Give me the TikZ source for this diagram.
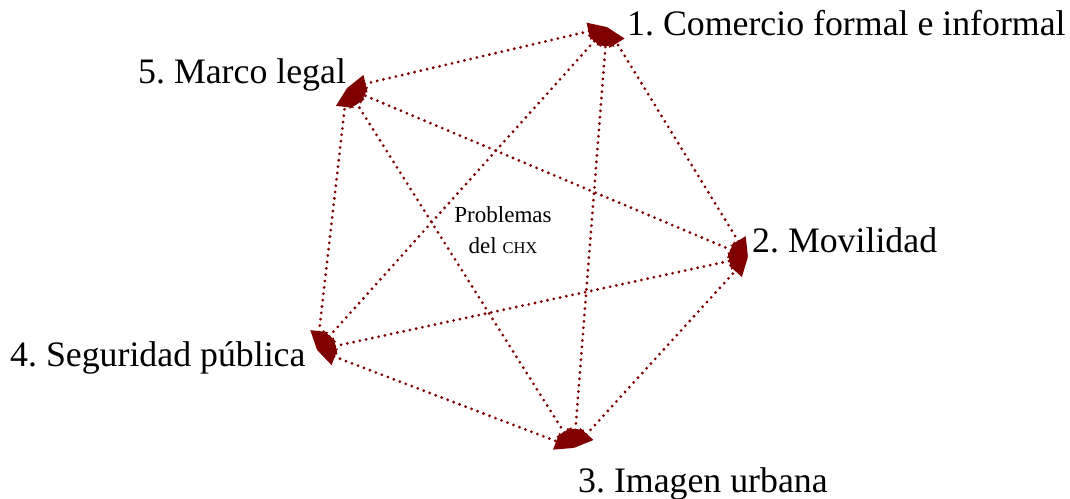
\documentclass[tikz,border=0pt]{standalone}
\usepackage{fontspec}
\setmainfont{Liberation Serif}
\usetikzlibrary{arrows.meta}
\definecolor{edgered}{RGB}{128,0,0}
\begin{document}
\frenchspacing
\begin{tikzpicture}[x=1pt,y=-1pt,
  link/.style={draw=edgered,line width=3.1pt,line cap=round,dash pattern=on 0pt off 6.4pt,
    {Triangle[length=19pt,width=17pt,fill=edgered]}-{Triangle[length=19pt,width=17pt,fill=edgered]}},
  lbl/.style={anchor=base west,inner sep=0pt,font=\fontsize{35.8}{40}\selectfont}]
\path[use as bounding box] (0,0) rectangle (1070,498);
\coordinate (v1) at (607,27);
\coordinate (v2) at (748,257);
\coordinate (v3) at (574,448);
\coordinate (v4) at (317,350);
\coordinate (v5) at (347,88);
\draw[link] (v5) -- (v1);
\draw[link] (v4) -- (v1);
\draw[link] (v3) -- (v1);
\draw[link] (v2) -- (v1);
\draw[link] (v2) -- (v5);
\draw[link] (v4) -- (v2);
\draw[link] (v3) -- (v2);
\draw[link] (v3) -- (v5);
\draw[link] (v4) -- (v5);
\draw[link] (v4) -- (v3);
\node[lbl] (l1) at (627,35) {1. Comercio formal e informal};
\node[lbl] (l2) at (752,252) {2. Movilidad};
\node[lbl] (l3) at (578,492) {3. Imagen urbana};
\node[lbl] (l4) at (10,366) {4. Seguridad pública};
\node[lbl] (l5) at (138,83) {5. Marco legal};
\node[align=center,inner sep=0pt,font=\fontsize{23}{31}\selectfont] (c) at (503,230) {Problemas\\del {\fontsize{16.5}{20}\selectfont CHX}};
\end{tikzpicture}
\end{document}
